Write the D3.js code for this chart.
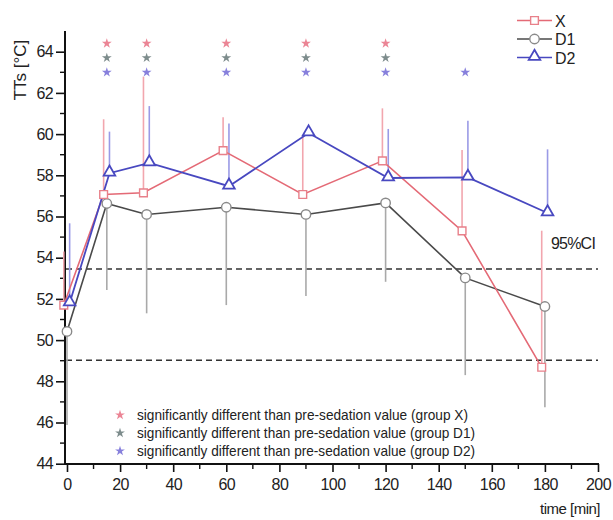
<!DOCTYPE html>
<html><head><meta charset="utf-8">
<script src="https://cdn.jsdelivr.net/npm/d3@7"></script>
<style>body{margin:0;background:#fff}svg{display:block}text{font-family:"Liberation Sans",Arial,sans-serif}</style>
</head><body><svg id="c" width="613" height="520"></svg>
<script>
const times = [0, 15, 30, 60, 90, 120, 150, 180];
const xMean  = [51.7, 57.07, 57.15, 59.2, 57.07, 58.7, 55.3, 48.68];
const xUpper = [54.3, 60.72, 62.79, 60.82, 59.9, 61.25, 59.23, 55.31];
const d1Mean  = [50.42, 56.63, 56.1, 56.45, 56.1, 56.66, 53.02, 51.63];
const d1Lower = [45.88, 52.43, 51.3, 51.7, 52.14, 52.83, 48.3, 46.74];
const d2Mean  = [51.8, 58.1, 58.6, 57.47, 60.05, 57.87, 57.9, 56.17];
const d2Upper = [55.67, 60.12, 61.36, 60.52, 60.35, 60.25, 60.65, 59.26];
const ciLines = [53.45, 49.02];
const starX  = [15, 30, 60, 90, 120];
const starD1 = [15, 30, 60, 90, 120];
const starD2 = [15, 30, 60, 90, 120, 150];
const starRows = [64.4, 63.7, 63.0];
const xTicks = [0, 20, 40, 60, 80, 100, 120, 140, 160, 180, 200];
const yTicks = [44, 46, 48, 50, 52, 54, 56, 58, 60, 62, 64];
const seriesNames = ["X", "D1", "D2"];
const noteText = [
  "significantly different than pre-sedation value (group X)",
  "significantly different than pre-sedation value (group D1)",
  "significantly different than pre-sedation value (group D2)"
];

const svg = d3.select("#c");
const x = d3.scaleLinear().domain([-0.75, 200]).range([65, 598]);
const y = d3.scaleLinear().domain([44, 64]).range([463.7, 51.7]);

const colors = {
  X:  {line: "#e46a76", bar: "#f2a6ae", mark: "#e8808a", star: "#e9788a"},
  D1: {line: "#4a4a4a", bar: "#a9a9a9", mark: "#8a8a8a", star: "#6f7f7f"},
  D2: {line: "#4848c0", bar: "#9a9ae6", mark: "#4848c0", star: "#7a72d8"}
};
const offs = {X: -1.2, D1: 0, D2: 1};

// axes
const yAxis = d3.axisLeft(y).tickValues(yTicks).tickSize(9).tickPadding(3).tickFormat(d3.format("d"));
const gy = svg.append("g").attr("transform", "translate(65,0)").call(yAxis);
gy.select(".domain").remove();
gy.append("line").attr("x1", 0).attr("x2", 0).attr("y1", 31).attr("y2", 464.5).attr("stroke", "#111").attr("stroke-width", 2);
gy.selectAll(".tick line").attr("stroke", "#111").attr("stroke-width", 1.6);
gy.selectAll(".tick text").attr("font-size", 16).attr("letter-spacing", -0.6).attr("fill", "#222");
svg.append("g").selectAll("line").data(d3.range(45, 65, 2)).join("line")
  .attr("x1", 60).attr("x2", 65).attr("y1", d => y(d)).attr("y2", d => y(d))
  .attr("stroke", "#111").attr("stroke-width", 1.4);

const xAxis = d3.axisBottom(x).tickValues(xTicks).tickSize(8).tickPadding(7).tickFormat(d3.format("d"));
const gx = svg.append("g").attr("transform", "translate(0,464)").call(xAxis);
gx.select(".domain").remove();
gx.append("line").attr("x1", 64).attr("x2", 599).attr("y1", 0).attr("y2", 0).attr("stroke", "#111").attr("stroke-width", 2);
gx.selectAll(".tick line").attr("stroke", "#111").attr("stroke-width", 1.6);
gx.selectAll(".tick text").attr("font-size", 16).attr("letter-spacing", -0.6).attr("fill", "#222");
svg.append("g").selectAll("line").data(d3.range(10, 200, 20)).join("line")
  .attr("x1", d => x(d)).attr("x2", d => x(d)).attr("y1", 464).attr("y2", 469)
  .attr("stroke", "#111").attr("stroke-width", 1.4);

svg.append("text").attr("transform", "translate(26,70) rotate(-90)").attr("text-anchor", "middle")
  .attr("font-size", 17).attr("fill", "#222").text("TTs [°C]");
svg.append("text").attr("x", 600).attr("y", 514).attr("text-anchor", "end")
  .attr("font-size", 15).attr("letter-spacing", -0.5).attr("fill", "#222").text("time [min]");

// CI dashed lines
svg.append("g").selectAll("line").data(ciLines).join("line")
  .attr("x1", 66).attr("x2", 598).attr("y1", d => y(d)).attr("y2", d => y(d))
  .attr("stroke", "#333").attr("stroke-width", 1.6).attr("stroke-dasharray", "6,4");
svg.append("text").attr("x", 551).attr("y", 248.5).attr("font-size", 16).attr("fill", "#222")
  .attr("letter-spacing", -0.8).text("95%CI");

// error bars
function bars(name, mean, ends) {
  svg.append("g").selectAll("line").data(times).join("line")
    .attr("x1", (d) => x(d + offs[name])).attr("x2", (d) => x(d + offs[name]))
    .attr("y1", (d, i) => y(mean[i])).attr("y2", (d, i) => y(ends[i]))
    .attr("stroke", colors[name].bar).attr("stroke-width", 1.6);
}
bars("X", xMean, xUpper);
bars("D2", d2Mean, d2Upper);
bars("D1", d1Mean, d1Lower);

// lines
function line(name, mean, w) {
  const gen = d3.line().x((d) => x(d + offs[name])).y((d, i) => y(mean[i]));
  svg.append("path").datum(times).attr("d", gen).attr("fill", "none")
    .attr("stroke", colors[name].line).attr("stroke-width", w);
}
line("D1", d1Mean, 1.6);
line("X", xMean, 1.6);
line("D2", d2Mean, 1.8);

// markers
const symSize = {X: 60, D1: 70, D2: 58};
const symType = {X: d3.symbolSquare, D1: d3.symbolCircle, D2: d3.symbolTriangle};
function marks(name, mean) {
  svg.append("g").selectAll("path").data(times).join("path")
    .attr("d", d3.symbol().type(symType[name]).size(symSize[name]))
    .attr("transform", (d, i) => `translate(${x(d + offs[name])},${y(mean[i]) + (name === "D2" ? -1 : 0)})`)
    .attr("fill", "#fff").attr("stroke", colors[name].mark).attr("stroke-width", name === "D2" ? 1.8 : 1.4);
}
marks("D1", d1Mean);
marks("X", xMean);
marks("D2", d2Mean);

// significance stars
const starSym = d3.symbol().type(d3.symbolStar).size(30);
[[starX, "X"], [starD1, "D1"], [starD2, "D2"]].forEach(([arr, name], k) => {
  svg.append("g").selectAll("path").data(arr).join("path")
    .attr("d", starSym).attr("transform", d => `translate(${x(d)},${y(starRows[k])})`)
    .attr("fill", colors[name].star).attr("opacity", 0.9);
});

// top legend
seriesNames.forEach((name, i) => {
  const cy = 20.5 + i * 18.5;
  const g = svg.append("g");
  g.append("line").attr("x1", 517).attr("x2", 552).attr("y1", cy).attr("y2", cy)
    .attr("stroke", colors[name].line).attr("stroke-width", 1.6);
  g.append("path").attr("d", d3.symbol().type(symType[name]).size(symSize[name]))
    .attr("transform", `translate(534.5,${cy + (name === "D2" ? -1 : 0)})`)
    .attr("fill", "#fff").attr("stroke", colors[name].mark).attr("stroke-width", name === "D2" ? 1.8 : 1.4);
  g.append("text").attr("x", 555).attr("y", cy + 6).attr("font-size", 16).attr("fill", "#222").text(name);
});

// bottom notes
seriesNames.forEach((name, i) => {
  const cy = 415 + i * 18;
  svg.append("path").attr("d", starSym).attr("transform", `translate(120,${cy})`).attr("fill", colors[name].star).attr("opacity", 0.9);
  svg.append("text").attr("x", 137).attr("y", cy + 5).attr("font-size", 15).attr("fill", "#222")
    .attr("textLength", name === "X" ? 331 : 338).attr("lengthAdjust", "spacingAndGlyphs").text(noteText[i]);
});
</script></body></html>
